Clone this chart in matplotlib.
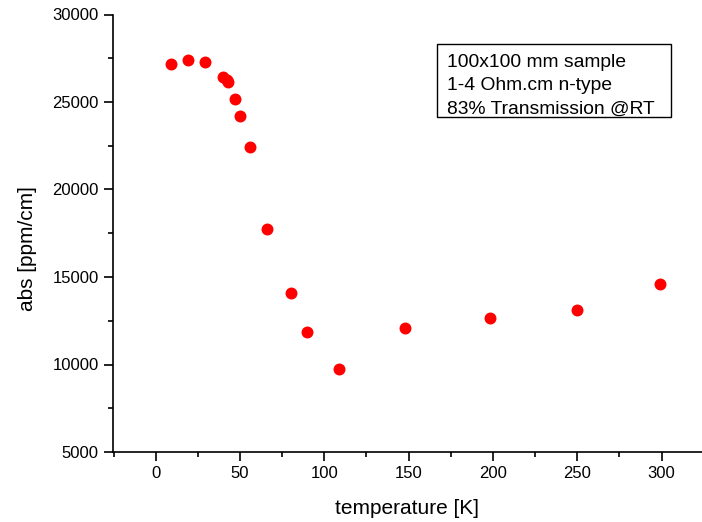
import numpy as np
import matplotlib.pyplot as plt
from matplotlib.patches import Rectangle
from matplotlib.ticker import MultipleLocator

plt.rcParams['font.family'] = ['Liberation Sans', 'DejaVu Sans']

# Données
temperature = [9, 19, 29, 40, 42, 43, 47, 50, 56, 66, 80, 90, 109, 148, 198, 250, 299]   # K
absorption = [27150, 27390, 27300, 26450, 26230, 26140, 25190, 24180, 22430, 17770,
              14090, 11870, 9720, 12080, 12650, 13100, 14600]                             # ppm/cm

legende = ["100x100 mm sample", "1-4 Ohm.cm n-type", "83% Transmission @RT"]

W, H = 702, 522
fig = plt.figure(figsize=(W / 100, H / 100), dpi=100)
ax = fig.add_axes([112.7 / W, 1 - 452 / H, 1 - 112.7 / W, (452 - 14.5) / H])

ax.plot(temperature, absorption, 'o', color='#ff0000', markersize=8.6, markeredgewidth=0)

ax.set_xlim(-25.5, 324)
ax.set_ylim(5000, 30000)
ax.xaxis.set_major_locator(MultipleLocator(50))
ax.xaxis.set_minor_locator(MultipleLocator(25))
ax.yaxis.set_major_locator(MultipleLocator(5000))
ax.yaxis.set_minor_locator(MultipleLocator(2500))

for s in ['top', 'right']:
    ax.spines[s].set_visible(False)
for s in ['left', 'bottom']:
    ax.spines[s].set_linewidth(1.2)

ax.tick_params(which='major', direction='out', length=6.5, width=1.2, labelsize=12, pad=3.5)
ax.tick_params(which='minor', direction='out', length=3.5, width=1.2)

ax.set_xlabel('temperature [K]', fontsize=15, labelpad=13)
ax.set_ylabel('abs [ppm/cm]', fontsize=15)
ax.yaxis.set_label_coords((37 - 112.7) / (W - 112.7), (452 - 248.5) / 437.5)

# Cadre de la légende
fig.patches.append(Rectangle((437 / W, 1 - 117 / H), 234 / W, 73 / H, transform=fig.transFigure,
                             facecolor='white', edgecolor='black', linewidth=1.0))
for i, ligne in enumerate(legende):
    fig.text(447 / W, 1 - (66.7 + 23.4 * i) / H, ligne, fontsize=13.9, va='baseline', ha='left')

fig.savefig('out.png', dpi=100)
